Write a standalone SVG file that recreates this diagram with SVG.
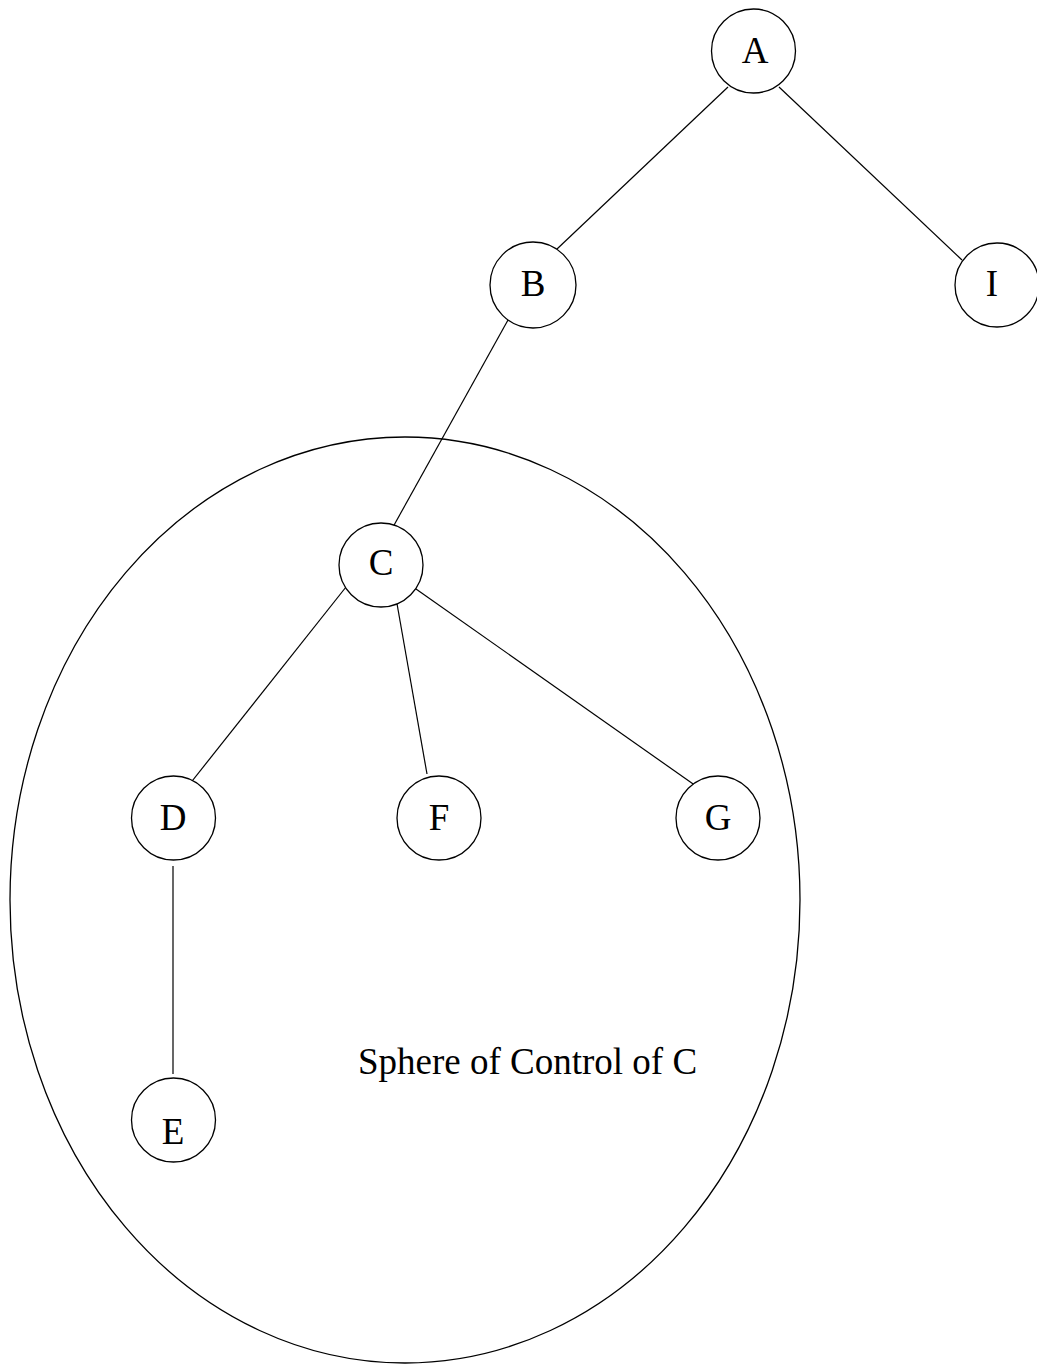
<svg xmlns="http://www.w3.org/2000/svg" width="1037" height="1364" viewBox="0 0 1037 1364">
  <style>
    .node circle { fill: #ffffff; stroke: #000000; stroke-width: 1.3; }
    .node text, .label { font-family: "Liberation Serif", "Times New Roman", serif; font-size: 37px; fill: #000000; text-anchor: middle; }
    .label { text-anchor: start; }
    .edges line { stroke: #000000; stroke-width: 1.2; }
    .region { fill: none; stroke: #000000; stroke-width: 1.3; }
  </style>
  <rect width="1037" height="1364" fill="#ffffff"/>

  <!-- sphere of control region around C -->
  <ellipse class="region" cx="405" cy="900" rx="395" ry="463"/>
  <text class="label" x="358" y="1074">Sphere of Control of C</text>

  <!-- tree connectors -->
  <g id="connectors" class="edges">
    <line x1="728" y1="87" x2="557" y2="249"/>
    <line x1="779" y1="87" x2="962" y2="260"/>
    <line x1="508" y1="320" x2="393" y2="527"/>
    <line x1="346" y1="587" x2="185" y2="790"/>
    <line x1="396" y1="598" x2="427" y2="774"/>
    <line x1="416" y1="589" x2="696" y2="786"/>
    <line x1="173" y1="866" x2="173" y2="1074"/>
  </g>

  <!-- tree nodes -->
  <g id="node-A" class="node"><circle cx="753.5" cy="51" r="42"/><text x="755" y="63">A</text></g>
  <g id="node-B" class="node"><circle cx="533" cy="285" r="43"/><text x="533" y="296">B</text></g>
  <g id="node-I" class="node"><circle cx="997" cy="285" r="42"/><text x="992" y="296">I</text></g>
  <g id="node-C" class="node"><circle cx="381" cy="565" r="42"/><text x="381" y="575">C</text></g>
  <g id="node-D" class="node"><circle cx="173.5" cy="818" r="42"/><text x="173" y="830">D</text></g>
  <g id="node-F" class="node"><circle cx="439" cy="818" r="42"/><text x="439" y="830">F</text></g>
  <g id="node-G" class="node"><circle cx="718" cy="818" r="42"/><text x="718" y="830">G</text></g>
  <g id="node-E" class="node"><circle cx="173.5" cy="1120" r="42"/><text x="173" y="1144">E</text></g>
</svg>
